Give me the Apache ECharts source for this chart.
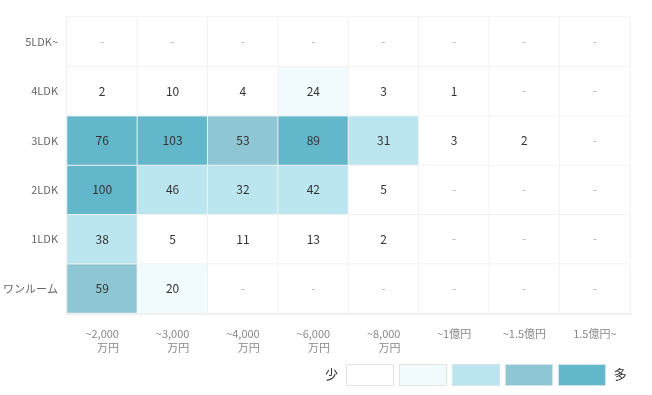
<!DOCTYPE html>
<html><head><meta charset="utf-8">
<script src="https://cdn.jsdelivr.net/npm/echarts@6/dist/echarts.min.js"></script>
<style>html,body{margin:0;padding:0;background:#fff}#c{width:652px;height:395px}</style>
</head><body><div id="c"></div>
<script>
const priceLabels = ['~2,000\n万円','~3,000\n万円','~4,000\n万円','~6,000\n万円','~8,000\n万円','~1億円','~1.5億円','1.5億円~'];
const roomTypes = ['ワンルーム','1LDK','2LDK','3LDK','4LDK','5LDK~'];
// values per room type, by price band (null = no listing, shown as "-")
const oneRoom = [59, 20, null, null, null, null, null, null];
const ldk1 = [38, 5, 11, 13, 2, null, null, null];
const ldk2 = [100, 46, 32, 42, 5, null, null, null];
const ldk3 = [76, 103, 53, 89, 31, 3, 2, null];
const ldk4 = [2, 10, 4, 24, 3, 1, null, null];
const ldk5 = [null, null, null, null, null, null, null, null];
const rows = [oneRoom, ldk1, ldk2, ldk3, ldk4, ldk5];

const data = [];
rows.forEach((row, y) => row.forEach((v, x) => {
  if (v === null) {
    data.push({value: [x, y, 0], label: {formatter: '-', color: '#aaa', fontSize: 11}});
  } else {
    data.push({value: [x, y, v]});
  }
}));

const chart = echarts.init(document.getElementById('c'));
const font = '"Noto Sans CJK JP", "Noto Sans", sans-serif';
chart.setOption({
  textStyle: {fontFamily: font},
  animation: false,
  grid: {left: 67, right: 22, top: 17, bottom: 82},
  xAxis: {
    type: 'category', data: priceLabels,
    axisLine: {show: true, lineStyle: {color: '#eeeeee', width: 3}},
    axisTick: {show: false},
    splitArea: {show: false},
    axisLabel: {
      color: '#888', fontSize: 11, margin: 14, interval: 0,
      formatter: function (v) {
        const p = v.split('\n');
        if (p.length === 1) return '{a|' + p[0] + '}';
        return '{a|' + p[0] + '}\n{b|' + p[1] + '}';
      },
      rich: {
        a: {color: '#888', fontSize: 11, lineHeight: 14, fontFamily: font},
        b: {color: '#888', fontSize: 11, lineHeight: 14, align: 'right', fontFamily: font}
      }
    }
  },
  yAxis: {
    type: 'category', data: roomTypes,
    axisLine: {show: true, lineStyle: {color: '#eeeeee', width: 3}},
    axisTick: {show: false},
    axisLabel: {color: '#666', fontSize: 11, margin: 9}
  },
  visualMap: {
    type: 'piecewise', orient: 'horizontal', dimension: 2,
    left: 310, top: 349,
    itemWidth: 48, itemHeight: 21, itemGap: 5, textGap: 12,
    itemSymbol: 'rect',
    text: [' 多', '少 '],
    textStyle: {color: '#333', fontSize: 13},
    hoverLink: false, selectedMode: false,
    pieces: [
      {min: 0, max: 15, color: '#ffffff'},
      {min: 15, max: 30, color: '#f1fafd'},
      {min: 30, max: 50, color: '#bce6ef'},
      {min: 50, max: 70, color: '#8ec6d3'},
      {min: 70, color: '#62b7cb'}
    ]
  },
  series: [{
    type: 'heatmap', data: data,
    itemStyle: {borderColor: '#f2f2f2', borderWidth: 1},
    label: {show: true, color: '#333', fontSize: 12},
    emphasis: {disabled: true}
  }]
});
chart.setOption({
  graphic: [0,1,2,3,4].map(i => ({
    type: 'rect', silent: true, z: 100,
    shape: {x: 346.5 + i * 53, y: 364.5, width: 47, height: 21},
    style: {fill: null, stroke: i < 2 ? '#e3e3e3' : '#d3e5ea', lineWidth: 1}
  }))
});
</script></body></html>
